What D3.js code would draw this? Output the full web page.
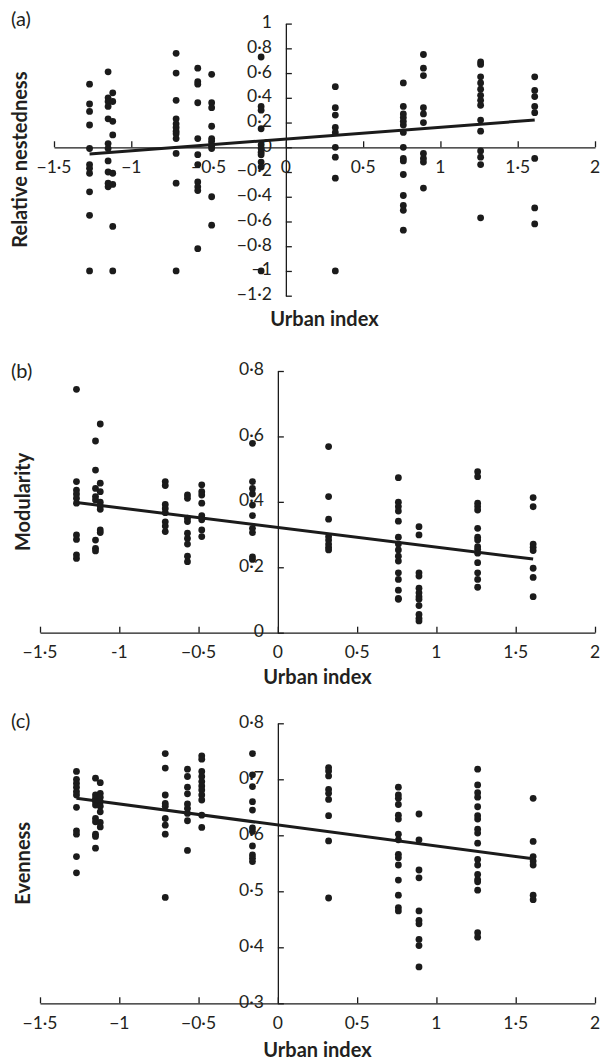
<!DOCTYPE html>
<html>
<head>
<meta charset="utf-8">
<script src="https://cdn.jsdelivr.net/npm/d3@7"></script>
<style>
  html, body { margin: 0; padding: 0; background: #fff; }
  svg text { font-family: Lato, "Open Sans", sans-serif; fill: #231f20; }
</style>
</head>
<body>
<div id="chart"></div>
<script>
// Urban index of each site (x positions of the dot columns)
const sites = [-1.27, -1.15, -1.12, -0.71, -0.57, -0.48, -0.16, 0.32, 0.76, 0.89, 1.26, 1.61];

// (a) relative nestedness, one list per site
const nestedness = [
  [0.51, 0.35, 0.29, 0.18, -0.01, -0.14, -0.17, -0.21, -0.36, -0.55, -1.0],
  [0.61, 0.40, 0.37, 0.33, 0.23, 0.03, -0.01, -0.11, -0.20, -0.29, -0.32],
  [0.44, 0.37, 0.21, 0.10, -0.21, -0.30, -0.64, -1.0],
  [0.76, 0.60, 0.38, 0.23, 0.19, 0.16, 0.13, 0.11, 0.07, -0.05, -0.29, -1.0],
  [0.64, 0.53, 0.51, 0.36, 0.07, -0.06, -0.14, -0.28, -0.32, -0.35, -0.82],
  [0.59, 0.36, 0.32, 0.17, 0.07, 0.05, 0.01, -0.01, -0.40, -0.63],
  [0.73, 0.33, 0.30, 0.15, 0.02, -0.01, -0.04, -0.06, -0.12, -0.16, -1.0],
  [0.49, 0.32, 0.26, 0.16, 0.12, 0.0, -0.08, -0.25, -1.0],
  [0.52, 0.33, 0.27, 0.24, 0.21, 0.18, 0.12, 0.0, -0.09, -0.11, -0.22, -0.39, -0.47, -0.51, -0.67],
  [0.75, 0.64, 0.58, 0.32, 0.27, 0.20, -0.05, -0.09, -0.12, -0.33],
  [0.69, 0.67, 0.57, 0.52, 0.47, 0.42, 0.38, 0.34, 0.22, 0.13, -0.03, -0.08, -0.14, -0.57],
  [0.57, 0.46, 0.41, 0.33, 0.28, -0.09, -0.49, -0.62]
];

// (b) modularity
const modularity = [
  [0.744, 0.462, 0.436, 0.424, 0.411, 0.396, 0.299, 0.285, 0.238, 0.227],
  [0.586, 0.497, 0.441, 0.416, 0.406, 0.283, 0.258, 0.25],
  [0.638, 0.457, 0.431, 0.399, 0.387, 0.377, 0.314, 0.306],
  [0.462, 0.45, 0.392, 0.38, 0.367, 0.339, 0.326, 0.309],
  [0.421, 0.411, 0.35, 0.34, 0.304, 0.288, 0.271, 0.234, 0.217],
  [0.452, 0.431, 0.421, 0.396, 0.358, 0.345, 0.314, 0.294],
  [0.579, 0.462, 0.441, 0.424, 0.39, 0.358, 0.319, 0.306, 0.232, 0.224],
  [0.569, 0.416, 0.347, 0.294, 0.283, 0.271, 0.261, 0.253],
  [0.474, 0.399, 0.385, 0.372, 0.341, 0.292, 0.271, 0.253, 0.234, 0.219, 0.183, 0.163, 0.130, 0.105, 0.102],
  [0.324, 0.299, 0.183, 0.173, 0.136, 0.122, 0.110, 0.102, 0.083, 0.056, 0.044, 0.036],
  [0.492, 0.477, 0.396, 0.385, 0.375, 0.319, 0.292, 0.283, 0.263, 0.255, 0.243, 0.214, 0.183, 0.163, 0.139],
  [0.413, 0.385, 0.271, 0.261, 0.251, 0.197, 0.169, 0.110]
];

// (c) evenness
const evenness = [
  [0.714, 0.700, 0.693, 0.686, 0.678, 0.672, 0.650, 0.608, 0.602, 0.562, 0.533],
  [0.702, 0.672, 0.666, 0.660, 0.654, 0.630, 0.624, 0.602, 0.598, 0.577],
  [0.694, 0.675, 0.668, 0.660, 0.652, 0.642, 0.623, 0.615],
  [0.746, 0.720, 0.672, 0.657, 0.652, 0.630, 0.618, 0.602, 0.489],
  [0.718, 0.705, 0.686, 0.674, 0.656, 0.648, 0.639, 0.626, 0.573],
  [0.742, 0.736, 0.714, 0.705, 0.696, 0.688, 0.681, 0.672, 0.663, 0.636, 0.614],
  [0.746, 0.708, 0.687, 0.660, 0.645, 0.613, 0.607, 0.581, 0.565, 0.559, 0.553],
  [0.721, 0.715, 0.706, 0.682, 0.675, 0.664, 0.635, 0.590, 0.488],
  [0.686, 0.672, 0.666, 0.655, 0.636, 0.629, 0.602, 0.592, 0.566, 0.560, 0.547, 0.520, 0.493, 0.471, 0.465],
  [0.638, 0.592, 0.538, 0.524, 0.465, 0.448, 0.442, 0.414, 0.403, 0.365],
  [0.718, 0.690, 0.676, 0.668, 0.651, 0.635, 0.629, 0.611, 0.604, 0.586, 0.557, 0.547, 0.530, 0.521, 0.517, 0.502, 0.426, 0.418],
  [0.666, 0.589, 0.562, 0.554, 0.547, 0.493, 0.485]
];

// fitted regression lines, [x, y] end points
const trendA = [[-1.27, -0.055], [1.61, 0.22]];
const trendB = [[-1.27, 0.398], [1.61, 0.225]];
const trendC = [[-1.27, 0.666], [1.61, 0.558]];

// tick values and labels
const xTicks = [-1.5, -1, -0.5, 0, 0.5, 1, 1.5, 2];
const xLabels = ['\u22121\u00b75', '\u22121', '\u22120\u00b75', '0', '0\u00b75', '1', '1\u00b75', '2'];
const xLabelsB = ['\u22121\u00b75', '-1', '\u22120\u00b75', '0', '0\u00b75', '1', '1\u00b75', '2'];
const yTicksA = [-1.2, -1, -0.8, -0.6, -0.4, -0.2, 0, 0.2, 0.4, 0.6, 0.8, 1];
const yLabelsA = ['\u22121\u00b72', '\u22121', '\u22120\u00b78', '\u22120\u00b76', '\u22120\u00b74', '\u22120\u00b72', '0', '0\u00b72', '0\u00b74', '0\u00b76', '0\u00b78', '1'];
const yTicksB = [0, 0.2, 0.4, 0.6, 0.8];
const yLabelsB = ['0', '0\u00b72', '0\u00b74', '0\u00b76', '0\u00b78'];
const yTicksC = [0.3, 0.4, 0.5, 0.6, 0.7, 0.8];
const yLabelsC = ['0\u00b73', '0\u00b74', '0\u00b75', '0\u00b76', '0\u00b77', '0\u00b78'];

const W = 602, H = 1060;
const INK = '#1b1b1b';

const svg = d3.select('#chart').append('svg')
  .attr('width', W)
  .attr('height', H);

function drawPanel(p) {
  const x = d3.scaleLinear().domain([-1.5, 2]).range(p.xRange);
  const y = d3.scaleLinear().domain(p.yDomain).range(p.yRange);
  const g = svg.append('g');

  const axisY = y(p.xAxisAt);   // where the horizontal axis crosses
  const axisX = x(0);           // vertical axis sits at urban index 0

  // x axis, ticks pointing up
  const xAxis = g.append('g')
    .attr('transform', `translate(0,${axisY})`)
    .call(d3.axisTop(x).tickValues(xTicks).tickSize(6).tickSizeOuter(0).tickFormat(''));
  xAxis.select('.domain').attr('stroke', INK).attr('stroke-width', 1.3);
  xAxis.selectAll('.tick line').attr('stroke', INK).attr('stroke-width', 1.3);

  // y axis, ticks pointing right
  const yAxis = g.append('g')
    .attr('transform', `translate(${axisX},0)`)
    .call(d3.axisRight(y).tickValues(p.yTicks).tickSize(6).tickSizeOuter(0).tickFormat(''));
  yAxis.select('.domain').attr('stroke', INK).attr('stroke-width', 1.3);
  yAxis.selectAll('.tick line').attr('stroke', INK).attr('stroke-width', 1.3);

  // tick labels
  g.append('g').selectAll('text')
    .data(xTicks)
    .join('text')
    .attr('x', d => x(d))
    .attr('y', axisY + 21)
    .attr('text-anchor', 'middle')
    .attr('dominant-baseline', 'middle')
    .attr('font-size', 17.5)
    .text((d, i) => p.xLabels[i]);

  g.append('g').selectAll('text')
    .data(p.yTicks)
    .join('text')
    .attr('x', axisX - 14)
    .attr('y', d => y(d))
    .attr('text-anchor', 'end')
    .attr('dominant-baseline', 'middle')
    .attr('font-size', 17.5)
    .text((d, i) => p.yLabels[i]);

  // dots
  const pts = [];
  sites.forEach((s, i) => p.values[i].forEach(v => pts.push([s, v])));
  g.append('g').selectAll('circle')
    .data(pts)
    .join('circle')
    .attr('cx', d => x(d[0]))
    .attr('cy', d => y(d[1]))
    .attr('r', 3.4)
    .attr('fill', INK);

  // regression line
  g.append('path')
    .datum(p.trend)
    .attr('d', d3.line().x(d => x(d[0])).y(d => y(d[1])))
    .attr('fill', 'none')
    .attr('stroke', INK)
    .attr('stroke-width', 3);

  // axis titles
  const [r0, r1] = p.xRange;
  g.append('text')
    .attr('x', (r0 + r1) / 2)
    .attr('y', p.xTitleY)
    .attr('text-anchor', 'middle')
    .attr('font-size', 20)
    .attr('font-weight', 700)
    .text('Urban index');

  const midY = (p.yRange[0] + p.yRange[1]) / 2;
  g.append('text')
    .attr('transform', `translate(${p.yTitleX},${midY}) rotate(-90)`)
    .attr('text-anchor', 'middle')
    .attr('dominant-baseline', 'middle')
    .attr('font-size', 20)
    .attr('font-weight', 700)
    .text(p.yTitle);

  // panel letter
  g.append('text')
    .attr('x', 11)
    .attr('y', p.letterY)
    .attr('font-size', 20)
    .text(p.letter);
}

drawPanel({
  letter: '(a)', letterY: 26,
  xRange: [54, 595], yDomain: [-1.2, 1], yRange: [295.7, 23.6], xAxisAt: 0,
  yTicks: yTicksA, yLabels: yLabelsA, xLabels: xLabels,
  values: nestedness, trend: trendA,
  yTitle: 'Relative nestedness', yTitleX: 22, xTitleY: 326
});

drawPanel({
  letter: '(b)', letterY: 378,
  xRange: [40, 595], yDomain: [0, 0.8], yRange: [632.7, 371], xAxisAt: 0,
  yTicks: yTicksB, yLabels: yLabelsB, xLabels: xLabelsB,
  values: modularity, trend: trendB,
  yTitle: 'Modularity', yTitleX: 25, xTitleY: 684
});

drawPanel({
  letter: '(c)', letterY: 728,
  xRange: [40, 595], yDomain: [0.3, 0.8], yRange: [1003.3, 723.3], xAxisAt: 0.3,
  yTicks: yTicksC, yLabels: yLabelsC, xLabels: xLabels,
  values: evenness, trend: trendC,
  yTitle: 'Evenness', yTitleX: 25, xTitleY: 1057
});
</script>
</body>
</html>
